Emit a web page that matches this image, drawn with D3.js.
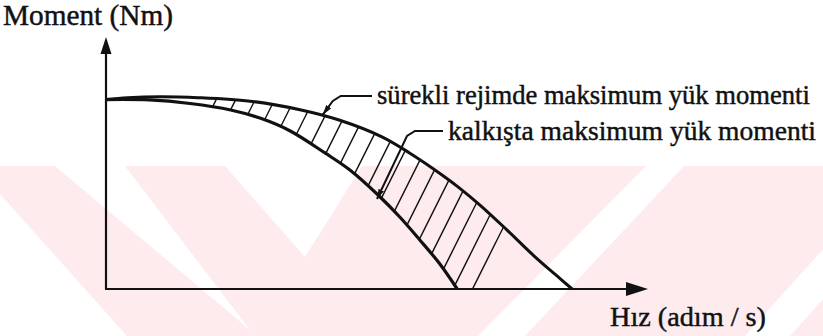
<!DOCTYPE html>
<html>
<head>
<meta charset="utf-8">
<script src="https://cdn.jsdelivr.net/npm/d3@7"></script>
<style>
  html, body { margin: 0; padding: 0; background: #fff; }
  svg { display: block; }
</style>
</head>
<body>
<svg id="chart" width="823" height="336"></svg>
<script>
// Stepper motor moment–speed characteristic (speed in relative units, moment in % of holding moment)
const speedPullOut  = [0, 4, 10, 17, 27, 36, 43, 51, 56, 62, 65, 69, 74, 79, 83, 86];
const momentPullOut = [100, 101, 101.5, 101, 99, 94.5, 89.2, 80.2, 71.8, 60.2, 53.8, 44.3, 31.1, 17.4, 7.4, 0];
const speedPullIn   = [0, 8, 15.5, 23, 28.4, 34, 40.4, 45, 50.2, 54.2, 57.9, 61.6, 64.8];
const momentPullIn  = [100, 99.8, 97.9, 94.5, 90.2, 83.4, 71.8, 62.8, 49.6, 38, 25.9, 13.2, 0];

// Text
const yAxisTitle = "Moment  (Nm)";
const xAxisTitle = "Hız  (adım / s)";
const curveLabels = ["sürekli rejimde maksimum yük momenti", "kalkışta maksimum yük momenti"];
// Points (speed, moment) where each label's leader arrow lands
const leaderTargets = [[40, 92], [50, 47.5]];

const W = 823, H = 336;
const FONT = "Liberation Serif, Times New Roman, serif";
const svg = d3.select("#chart");

const x = d3.scaleLinear().domain([0, 100]).range([106, 648]);
const y = d3.scaleLinear().domain([0, 133]).range([289, 37]);

// ---- faint background watermark bands ----
const wm = svg.append("g");
wm.append("rect").attr("x", 0).attr("y", 166).attr("width", W).attr("height", H - 166).attr("fill", "#fdebee");
const gaps = [
  [[0, 194], [127, 336], [0, 336]],
  [[55, 166], [125, 166], [250, 330]],
  [[225, 166], [362, 166], [305, 257]],
  [[646, 166], [684, 166], [525, 336], [478, 336]],
  [[898, 166], [943, 166], [790, 336], [745, 336]]
];
wm.selectAll("polygon").data(gaps).join("polygon")
  .attr("points", d => d.map(p => p.join(",")).join(" "))
  .attr("fill", "#fff");

// ---- curves ----
const ptsOut = speedPullOut.map((s, i) => [s, momentPullOut[i]]);
const ptsIn  = speedPullIn.map((s, i) => [s, momentPullIn[i]]);
const line = d3.line().x(d => x(d[0])).y(d => y(d[1])).curve(d3.curveCatmullRom.alpha(0.5));

// hatched band between the two curves
const bandPath = line(ptsOut) + line(ptsIn.slice().reverse()).replace(/^M/, "L") + "Z";
const defs = svg.append("defs");
defs.append("clipPath").attr("id", "band").append("path").attr("d", bandPath);

const hatchSlope = 0.5;      // horizontal run per unit of rise
const hatchStep = 19.5;
const hatchStart = 120.5;
const hatchX = d3.range(hatchStart, 480, hatchStep);
svg.append("g").attr("clip-path", "url(#band)")
  .selectAll("line").data(hatchX).join("line")
  .attr("x1", d => d).attr("y1", y(0) + 2)
  .attr("x2", d => d + hatchSlope * (y(0) + 2 - 80)).attr("y2", 80)
  .attr("stroke", "#111").attr("stroke-width", 1.4);

svg.append("path").attr("d", line(ptsOut)).attr("fill", "none")
  .attr("stroke", "#111").attr("stroke-width", 3).attr("stroke-linejoin", "round");
svg.append("path").attr("d", line(ptsIn)).attr("fill", "none")
  .attr("stroke", "#111").attr("stroke-width", 3.2).attr("stroke-linejoin", "round");

// ---- axes with arrowheads ----
const axes = svg.append("g").attr("stroke", "#111").attr("stroke-width", 2.2);
axes.append("line").attr("x1", x(0)).attr("y1", y(0)).attr("x2", x(0)).attr("y2", y(133) + 10);
axes.append("line").attr("x1", x(0) - 1).attr("y1", y(0)).attr("x2", x(100) - 12).attr("y2", y(0));
svg.append("path")
  .attr("d", `M${x(0)},${y(133)} L${x(0) + 5.5},${y(133) + 17} L${x(0) - 5.5},${y(133) + 17} Z`)
  .attr("fill", "#111");
svg.append("path")
  .attr("d", `M${x(100)},${y(0)} L${x(100) - 22},${y(0) - 7} L${x(100) - 22},${y(0) + 7} Z`)
  .attr("fill", "#111");

// ---- text helper: size the font so the text spans the given width ----
function label(str, x0, base, width, size) {
  const t = svg.append("text").attr("x", x0).attr("y", base)
    .attr("font-family", FONT).attr("font-size", size)
    .attr("fill", "#111").attr("stroke", "#111").attr("stroke-width", 0.45)
    .text(str);
  const w = t.node().getComputedTextLength();
  if (w > 0) t.attr("font-size", (size * width / w).toFixed(2));
  return t;
}

// ---- labels with leaders ----
defs.append("marker").attr("id", "tip")
  .attr("viewBox", "0 0 10 6").attr("refX", 10).attr("refY", 3)
  .attr("markerWidth", 10).attr("markerHeight", 6)
  .attr("markerUnits", "userSpaceOnUse").attr("orient", "auto")
  .append("path").attr("d", "M0,0 L10,3 L0,6 Z").attr("fill", "#111");

const labelLayout = [
  { x: 377, base: 104, width: 433, lead: 96 },
  { x: 448, base: 140, width: 368, lead: 131 }
];
curveLabels.forEach((t, i) => {
  const L = labelLayout[i];
  label(t, L.x, L.base, L.width, 27);
  const tx = x(leaderTargets[i][0]), ty = y(leaderTargets[i][1]);
  const elbowX = tx + (i === 0 ? 18 : 38);
  const pts = [[L.x - 5, L.lead], [elbowX, L.lead], [elbowX - 8, L.lead + 5], [tx, ty]];
  svg.append("path").attr("d", d3.line()(pts)).attr("fill", "none")
    .attr("stroke", "#111").attr("stroke-width", 2)
    .attr("marker-end", "url(#tip)");
});

label(yAxisTitle, 3, 25, 170, 27);
label(xAxisTitle, 610, 326, 156, 27);
</script>
</body>
</html>
